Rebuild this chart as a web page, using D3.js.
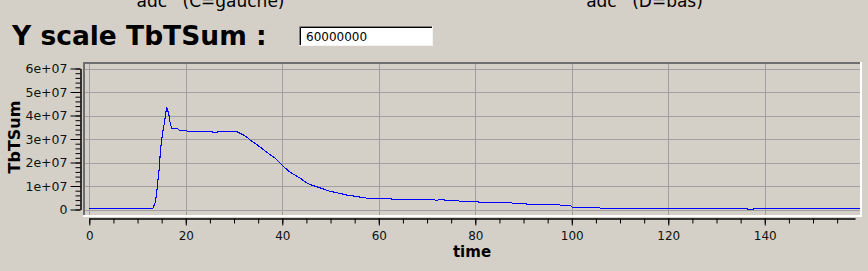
<!DOCTYPE html>
<html>
<head>
<meta charset="utf-8">
<script src="https://cdn.jsdelivr.net/npm/d3@7"></script>
<style>
  html, body { margin: 0; padding: 0; background: #d4d0c8; }
  svg { display: block; }
  text { font-family: "DejaVu Sans", sans-serif; }
</style>
</head>
<body>
<svg id="chart" width="868" height="271"></svg>
<script>
// ---- data ----
const times = [0, 13.2, 13.7, 13.9, 14.2, 14.45, 14.66, 14.87, 15.15, 15.35,
  15.56, 15.84, 16.04, 16.2, 16.46, 16.66, 16.87, 17.08, 18.3, 18.7,
  19.9, 20.5, 25.4, 25.6, 26.5, 26.7, 30.5, 31.3, 32.4, 33.4,
  34.4, 35.5, 36.5, 37.6, 38.6, 39.6, 40.3, 41.35, 42.4, 43.8,
  45.2, 46.5, 47.9, 49.6, 51.4, 53.5, 55.5, 57.6, 59.7, 62.5,
  62.8, 71.4, 71.8, 72.8, 73.3, 73.9, 76.6, 76.7, 80.4, 80.8,
  87.4, 87.7, 90.4, 90.8, 97.4, 97.7, 99.7, 100.1, 105.6, 106,
  136.3, 136.6, 137.5, 137.8, 160];
const tbtSum = [0.55, 0.55, 3.3, 6.1, 11.8, 16.7, 22.4, 27.4, 31.7, 34.5,
  36.6, 40.9, 43.5, 42.3, 40.9, 38.0, 35.9, 34.5, 34.5, 33.7,
  33.7, 33.2, 33.2, 32.8, 32.8, 33.2, 33.2, 32.4, 31.2, 29.5,
  28.1, 26.4, 24.8, 23.1, 21.7, 19.6, 18.2, 16.3, 14.9, 13.2,
  11.1, 10.1, 9.2, 7.9, 7.1, 6.1, 5.5, 4.8, 4.7, 4.7,
  4.3, 4.3, 3.8, 4.3, 4.3, 3.8, 3.8, 3.4, 3.4, 3.1,
  3.1, 2.6, 2.6, 2.1, 2.1, 1.7, 1.7, 1.0, 1.0, 0.4,
  0.4, 0.0, 0.0, 0.4, 0.4].map(v => v * 1e6);
const xMajorTicks = [0, 20, 40, 60, 80, 100, 120, 140];
const xTickLabels = ["0", "20", "40", "60", "80", "100", "120", "140"];
const yMajorTicks = [0, 1e7, 2e7, 3e7, 4e7, 5e7, 6e7];
const yTickLabels = ["0", "1e+07", "2e+07", "3e+07", "4e+07", "5e+07", "6e+07"];
const headerLabels = ["adc'  (C=gauche)", "adc'  (D=bas)"];
const titleText = "Y scale TbTSum :";
const scaleValue = "60000000";
const xLabel = "time";
const yLabel = "TbTSum";

// ---- layout ----
const svg = d3.select("#chart");
const frame = { x0: 85, y0: 64, x1: 860, y1: 215 };

const x = d3.scaleLinear().domain([0, 158.7]).range([89.3, 855]);
const y = d3.scaleLinear().domain([0, 6e7]).range([209.5, 68.5]);

// header labels (clipped at top)
svg.selectAll("text.hdr").data(headerLabels).join("text")
  .attr("class", "hdr")
  .attr("x", (d, i) => i === 0 ? 210.5 : 644.5)
  .attr("y", 7)
  .attr("text-anchor", "middle")
  .style("white-space", "pre")
  .attr("font-size", 17)
  .attr("fill", "#000")
  .text(d => d);

// title
svg.append("text")
  .attr("x", 12).attr("y", 45)
  .attr("font-size", 26.5).attr("font-weight", "bold")
  .attr("fill", "#000")
  .text(titleText);

// input box
const box = { x0: 299, y0: 26, x1: 433, y1: 46 };
svg.append("rect").attr("x", box.x0).attr("y", box.y0)
  .attr("width", box.x1 - box.x0).attr("height", box.y1 - box.y0).attr("fill", "#fff");
svg.append("path").attr("d", `M${box.x0 + 0.5},${box.y1}V${box.y0 + 0.5}H${box.x1}`)
  .attr("fill", "none").attr("stroke", "#808080");
svg.append("path").attr("d", `M${box.x0 + 1.5},${box.y1 - 1}V${box.y0 + 1.5}H${box.x1 - 1}`)
  .attr("fill", "none").attr("stroke", "#000");
svg.append("path").attr("d", `M${box.x0},${box.y1 - 0.5}H${box.x1 - 0.5}V${box.y0}`)
  .attr("fill", "none").attr("stroke", "#f4f4f4");
svg.append("text").attr("x", 306).attr("y", 40.5)
  .attr("font-size", 12).attr("fill", "#000").text(scaleValue);

// frame
svg.append("defs").append("clipPath").attr("id", "clip")
  .append("rect").attr("x", frame.x0).attr("y", frame.y0)
  .attr("width", frame.x1 - frame.x0).attr("height", frame.y1 - frame.y0);

const plot = svg.append("g").attr("clip-path", "url(#clip)");

// grid
plot.selectAll("line.vg").data(xMajorTicks).join("line")
  .attr("x1", d => Math.round(x(d)) + 0.5).attr("x2", d => Math.round(x(d)) + 0.5)
  .attr("y1", frame.y0).attr("y2", frame.y1)
  .attr("stroke", "#a0a0a0");
plot.selectAll("line.hg").data(yMajorTicks).join("line")
  .attr("x1", frame.x0).attr("x2", frame.x1)
  .attr("y1", d => Math.round(y(d)) + 0.5).attr("y2", d => Math.round(y(d)) + 0.5)
  .attr("stroke", "#a0a0a0");

// data line
const line = d3.line().x((d, i) => x(times[i])).y(d => y(d));
plot.append("path").datum(tbtSum)
  .attr("d", line)
  .attr("fill", "none").attr("stroke", "#0000ff").attr("stroke-width", 1.1)
  .attr("shape-rendering", "crispEdges");

// frame borders (sunken)
svg.append("path").attr("d", `M${frame.x0 - 1},${frame.y1}V${frame.y0 - 1}H${frame.x1}`)
  .attr("fill", "none").attr("stroke", "#6e6e6e").attr("stroke-width", 2);
svg.append("path").attr("d", `M${frame.x0 - 2},${frame.y1 + 1}H${frame.x1 + 1}V${frame.y0 - 2}`)
  .attr("fill", "none").attr("stroke", "#ffffff").attr("stroke-width", 2);

// x axis
const xAxisY = 218.5;
const gx = svg.append("g").attr("transform", `translate(0,${xAxisY})`);
gx.call(d3.axisBottom(x).tickValues(d3.range(0, 159, 5)).tickSize(5).tickSizeOuter(0).tickFormat(""));
gx.append("g").call(d3.axisBottom(x).tickValues(xMajorTicks).tickSize(7).tickSizeOuter(0)
  .tickPadding(6).tickFormat((d, i) => xTickLabels[i]));
gx.selectAll("path.domain").attr("stroke", "#000");
gx.selectAll(".tick line").attr("stroke", "#000");
gx.selectAll("text").attr("font-size", 12).attr("font-family", "DejaVu Sans").attr("fill", "#111");

// y axis
const yAxisX = 80.5;
const gy = svg.append("g").attr("transform", `translate(${yAxisX},0)`);
gy.call(d3.axisLeft(y).tickValues(d3.range(0, 6e7 + 1, 2e6)).tickSize(5).tickSizeOuter(0).tickFormat(""));
gy.append("g").call(d3.axisLeft(y).tickValues(yMajorTicks).tickSize(10).tickSizeOuter(0)
  .tickPadding(3).tickFormat((d, i) => yTickLabels[i]));
gy.selectAll("path.domain").attr("stroke", "#000");
gy.selectAll(".tick line").attr("stroke", "#000");
gy.selectAll("text").attr("font-size", 12.5).attr("font-family", "DejaVu Sans").attr("fill", "#111");

// axis titles
svg.append("text")
  .attr("x", 472).attr("y", 257)
  .attr("text-anchor", "middle")
  .attr("font-size", 15).attr("font-weight", "bold").attr("fill", "#000")
  .text(xLabel);
svg.append("text")
  .attr("transform", "translate(20,137) rotate(-90)")
  .attr("text-anchor", "middle")
  .attr("font-size", 16).attr("font-weight", "bold").attr("fill", "#000")
  .text(yLabel);
</script>
</body>
</html>
